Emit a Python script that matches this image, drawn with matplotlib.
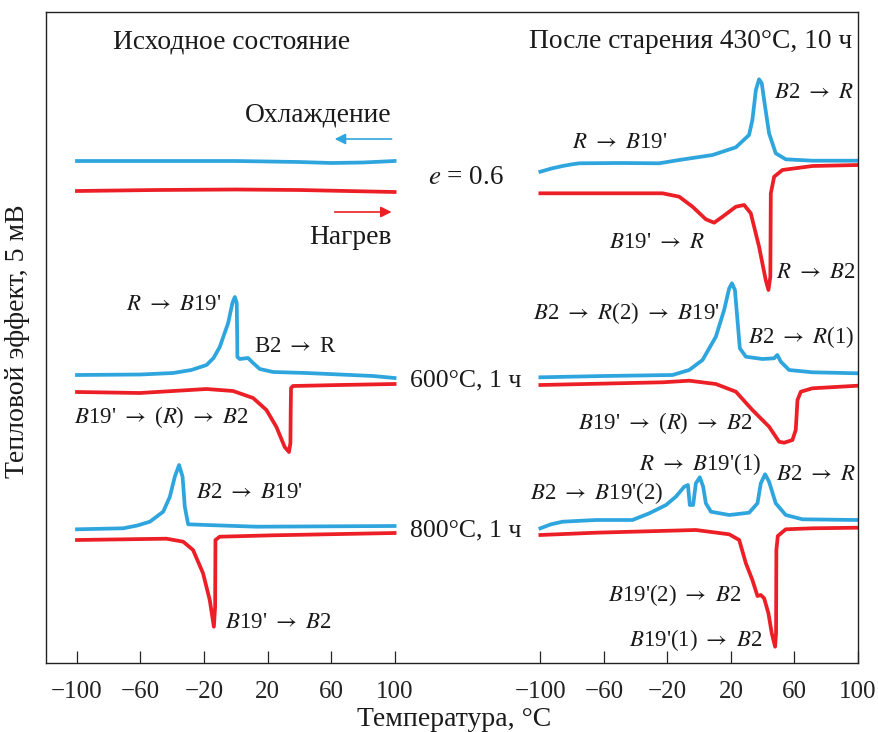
import matplotlib
matplotlib.use("Agg")
import matplotlib.pyplot as plt

plt.rcParams['font.family'] = ['Liberation Serif', 'DejaVu Serif']
plt.rcParams['mathtext.fontset'] = 'stix'
plt.rcParams['mathtext.default'] = 'it'

BLUE = '#2fa5de'
RED = '#ec1f26'

# ---------------- data (temperature, °C ; DSC signal, arbitrary units) -------------
# Left panel: initial state
init_cool_T = [-100, -40, 0, 40, 60, 80, 100]
init_cool_S = [502, 502, 502, 501, 500, 500.5, 502]
init_heat_T = [-100, -50, 0, 40, 70, 100]
init_heat_S = [472, 473, 473.5, 473, 472, 471]

l600_cool_T = [-100, -60, -39.4, -28, -18.4, -14, -10.1, -4.8, -2.1, -0.6, 0.6, 0.9, 1.0,
               2.5, 7.7, 10.9, 15.1, 23.5, 44.5, 86.4, 100]
l600_cool_S = [288, 288.5, 290, 293, 298, 305, 316, 340, 360, 366, 360, 326, 306,
               304, 305, 300, 294, 291, 290, 287, 285]
l600_heat_T = [-100, -60.4, -18.4, -1.7, 10.9, 19.3, 25.6, 30.8, 33.5, 34.4, 34.6, 34.8,
               36, 65.4, 100]
l600_heat_S = [271, 270, 274, 272, 265, 253, 236, 216, 211, 220, 253, 275,
               277, 278, 279]

l800_cool_T = [-100, -70.9, -62, -54.1, -45.7, -41.5, -38.4, -35.7, -33.5, -32.1, -30,
               -18.4, 13, 100]
l800_cool_S = [133.7, 134.7, 137.5, 141.3, 151.3, 166.3, 186.3, 198, 186.3, 156.3, 138.7,
               138, 136.3, 137]
l800_heat_T = [-100, -43.6, -33.1, -26.9, -20.6, -16.4, -13.8, -13, -12.8, -10.1,
               23.5, 100]
l800_heat_S = [123, 124.3, 121.3, 113, 89.7, 63, 36.3, 56.3, 123, 126.3, 127.7, 130]

# Right panel: after ageing 430 °C, 10 h
r06_cool_T = [-100, -93, -86, -80, -75.5, -50, -25.2, -12.6, 8.4, 23.1, 31.4, 33.5, 35.7,
              37.7, 39.4, 41.5, 44, 48.2, 54.5, 71.3, 100]
r06_cool_S = [491.3, 494.5, 497, 498.7, 499.7, 500, 499.7, 503, 508, 515.7, 528, 543, 573,
              583.7, 579.7, 556.3, 529.7, 509.7, 503.7, 502.3, 502.3]
r06_heat_T = [-100, -23.1, -12.6, -4.2, 4.2, 9.4, 14.7, 23.1, 28.3, 32.5, 37.7, 41.9,
              43.6, 44.8, 45.1, 47.2, 52.4, 71.3, 100]
r06_heat_S = [469.7, 469.7, 466.3, 456.3, 443.7, 440.3, 446.3, 456.3, 458, 449.7, 416.3,
              383, 373, 386.3, 469.7, 486.3, 493, 497, 498]

r600_cool_T = [-100, -60, -16.8, -6.3, 2.1, 10.5, 15.7, 18.9, 20.6, 22.5, 24.1, 25.6,
               29.4, 39.8, 47.2, 49.2, 51.4, 56.6, 71.3, 100]
r600_cool_S = [285.7, 287, 288, 293, 303, 326.3, 353, 374.7, 379.7, 373, 343, 314.7,
               306.3, 304, 304.7, 308, 301.3, 293, 290.7, 289.7]
r600_heat_T = [-100, -23.1, -6.3, 10.5, 23.1, 33.5, 44, 50.3, 53.5, 58.7, 60.8, 61.9,
               64, 71.3, 100]
r600_heat_S = [278, 280.7, 282.3, 279, 271.3, 253, 236.3, 221.3, 220.3, 223, 233, 263,
               271.3, 274.7, 277.3]

r800_cool_T = [-100, -93.3, -86, -65, -42, -31.4, -20.9, -14.7, -9.4, -7.1, -5.9, -3.8,
               -2.1, 0.4, 2.5, 4.2, 7.4, 18.9, 31.4, 36.7, 38.8, 41.5, 44, 48.2, 54.5, 65,
               100]
r800_cool_S = [134.7, 138.7, 141.3, 143, 143, 149.7, 158, 166.3, 176.3, 178, 158, 158,
               179.7, 185.7, 176.3, 159.7, 151.3, 148, 150.3, 159.7, 179.7, 188.7, 181.3,
               159.7, 148, 143.7, 143]
r800_heat_T = [-100, -65, -2.1, 18.9, 25.2, 29.4, 33.5, 36.7, 38.8, 40.9, 43.6, 45.7,
               47.8, 48.4, 48.6, 49.5, 54.5, 71.3, 100]
r800_heat_S = [128, 130.3, 133, 128.7, 123, 99.7, 83, 67, 68, 64.7, 49.7, 29.7, 16.3,
               29.7, 113, 127, 133.7, 134.7, 135.3]

tick_vals = [-100, -60, -20, 20, 60, 100]
tick_labels = ['\u2212100', '\u221260', '\u221220', '20', '60', '100']

# ---------------- layout ----------------
OFF = 291.8          # horizontal shift of the right panel on the shared axis
def L(t):
    return t
def R(t):
    return t + OFF if not isinstance(t, list) else [v + OFF for v in t]

W, H = 879, 732
fig = plt.figure(figsize=(W / 100, H / 100), dpi=100)
ax = fig.add_axes([46 / W, 69 / H, (858 - 46) / W, (663 - 12) / H])
ax.set_xlim(-119.5, 391.8)
ax.set_ylim(0, 651)

lw = 2.7
for (tx, sx, c) in [
        (init_cool_T, init_cool_S, BLUE), (init_heat_T, init_heat_S, RED),
        (l600_cool_T, l600_cool_S, BLUE), (l600_heat_T, l600_heat_S, RED),
        (l800_cool_T, l800_cool_S, BLUE), (l800_heat_T, l800_heat_S, RED)]:
    ax.plot(tx, sx, color=c, lw=lw, solid_joinstyle='round')
for (tx, sx, c) in [
        (r06_cool_T, r06_cool_S, BLUE), (r06_heat_T, r06_heat_S, RED),
        (r600_cool_T, r600_cool_S, BLUE), (r600_heat_T, r600_heat_S, RED),
        (r800_cool_T, r800_cool_S, BLUE), (r800_heat_T, r800_heat_S, RED)]:
    ax.plot(R(tx), sx, color=c, lw=lw, solid_joinstyle='round')

# ticks
ax.set_xticks(tick_vals + R(tick_vals))
ax.set_xticklabels(tick_labels + tick_labels, fontsize=18)
ax.set_yticks([])
ax.tick_params(axis='x', direction='in', length=9, width=0.9, pad=13, colors='#222222')
for s in ax.spines.values():
    s.set_linewidth(1.0)
    s.set_color('#222222')

fs = 16.5
tc = '#1a1a1a'
A = r'$\rightarrow$'
def txt(x, y, s, ha='center', size=fs):
    ax.text(x, y, s, ha=ha, va='center', fontsize=size, color=tc)

txt(L(-2.5), 621, 'Исходное состояние', size=19.8)
txt(R(96.2), 621, 'После старения 430°C, 10 ч', ha='right', size=19.8)
txt(L(98.1), 548, 'Охлаждение', ha='right', size=19.8)
txt(L(98.1), 425, 'Нагрев', ha='right', size=19.8)
ax.annotate('', xy=(L(62.3), 524), xytext=(L(98.1), 524),
            arrowprops=dict(arrowstyle='-|>', color=BLUE, lw=1.2,
                            mutation_scale=16, shrinkA=0, shrinkB=0))
ax.annotate('', xy=(L(98.1), 451), xytext=(L(62.3), 451),
            arrowprops=dict(arrowstyle='-|>', color=RED, lw=1.2,
                            mutation_scale=16, shrinkA=0, shrinkB=0))

txt(L(144.7), 486, r'$e$ = 0.6', size=19.5)
txt(L(144.7), 283, '600°C, 1 ч', size=18.5)
txt(L(144.7), 133, '800°C, 1 ч', size=18.5)

# left panel labels
txt(L(-39), 358, rf"$R$ {A} $B$19'")
txt(L(37.7), 317, rf'B2 {A} R')
txt(L(-46.5), 246, rf"$B$19' {A} ($R$) {A} $B$2")
txt(L(8.8), 171, rf"$B$2 {A} $B$19'")
txt(L(27), 40, rf"$B$19' {A} $B$2")

# right panel labels
txt(R(72.3), 571, rf"$B$2 {A} $R$")
txt(R(-50.3), 521, rf"$R$ {A} $B$19'")
txt(R(-26.7), 421, rf"$B$19' {A} $R$")
txt(R(73.6), 390, rf"$R$ {A} $B$2")
txt(R(-45.9), 350, rf"$B$2 {A} $R$(2) {A} $B$19'")
txt(R(64.2), 326, rf"$B$2 {A} $R$(1)")
txt(R(-21.4), 240, rf"$B$19' {A} ($R$) {A} $B$2")
txt(R(0.6), 199, rf"$R$ {A} $B$19'(1)")
txt(R(-64.8), 170, rf"$B$2 {A} $B$19'(2)")
txt(R(73.6), 188, rf"$B$2 {A} $R$")
txt(R(-15.7), 68, rf"$B$19'(2) {A} $B$2")
txt(R(-2.5), 23, rf"$B$19'(1) {A} $B$2")

fig.text(18 / W, 1 - 341 / H, 'Тепловой эффект, 5 мВ', rotation=90,
         ha='center', va='center', fontsize=20, color=tc)
fig.text(454 / W, 1 - 719 / H, 'Температура, °C', ha='center', va='center',
         fontsize=20, color=tc)

fig.savefig('out.png', dpi=100)
